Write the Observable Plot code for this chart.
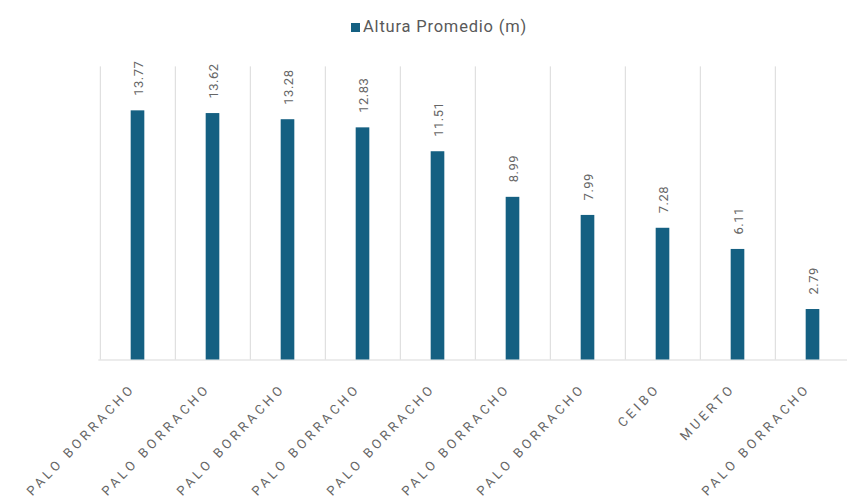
<!DOCTYPE html>
<html>
<head>
<meta charset="utf-8">
<script src="https://cdn.jsdelivr.net/npm/d3@7"></script>
<script src="https://cdn.jsdelivr.net/npm/@observablehq/plot@0.6"></script>
<style>
  html, body { margin: 0; padding: 0; background: #fff; overflow: hidden; width: 847px; height: 504px; }
  #wrap { position: relative; width: 847px; height: 504px; overflow: hidden; }
  #legend { position: absolute; top: 16px; left: 351px; font-family: Roboto, "Open Sans", sans-serif; font-size: 16.5px; letter-spacing: 0.8px; color: #595959; display: flex; align-items: center; white-space: nowrap; line-height: 22px; }
  #legend .sw { width: 9px; height: 9px; background: #156082; margin-right: 3px; }
  #chart svg { max-width: none; }
</style>
</head>
<body>
<div id="wrap">
  <div id="legend"><span class="sw"></span><span id="legend-text"></span></div>
  <div id="chart"></div>
</div>
<script>
const seriesName = "Altura Promedio (m)";
const categories = ["PALO BORRACHO", "PALO BORRACHO", "PALO BORRACHO", "PALO BORRACHO", "PALO BORRACHO", "PALO BORRACHO", "PALO BORRACHO", "CEIBO", "MUERTO", "PALO BORRACHO"];
const values = [13.77, 13.62, 13.28, 12.83, 11.51, 8.99, 7.99, 7.28, 6.11, 2.79];

document.getElementById("legend-text").textContent = seriesName;

const data = values.map((v, i) => ({i, label: categories[i], value: v}));

const W = 852, H = 504, mL = 98.3, mT = 70, mB = 144.5;
const band = (W - mL) / categories.length;
const barW = 14;

const chart = Plot.plot({
  width: W,
  height: H,
  marginLeft: mL,
  marginRight: 0,
  marginTop: mT,
  marginBottom: mB,
  style: {fontFamily: "Roboto, 'Open Sans', sans-serif", background: "#fff"},
  x: {type: "band", domain: data.map(d => d.i), padding: 0, axis: null},
  y: {domain: [0, 16], axis: null},
  marks: [
    Plot.ruleX(data, {x: "i", y1: 0, y2: 16.2, dx: -band / 2, stroke: "#d9d9d9", strokeWidth: 1}),
    Plot.ruleY([0], {stroke: "#d9d9d9", strokeWidth: 1}),
    Plot.barY(data, {x: "i", y: "value", fill: "#156082", insetLeft: (band - barW) / 2, insetRight: (band - barW) / 2}),
    Plot.text(data, {x: "i", y: "value", text: d => d.value.toFixed(2), rotate: -90, textAnchor: "start", dy: -15, dx: 1, fill: "#666666", fontSize: 13}),
    Plot.text(data, {x: "i", y: 0, text: "label", rotate: -46, textAnchor: "end", dx: -5, dy: 26, fill: "#666666", fontSize: 13})
  ]
});
const groups = chart.querySelectorAll('g[aria-label="text"]');
if (groups.length > 1) groups[1].setAttribute("letter-spacing", "3.6");
if (groups.length > 0) groups[0].setAttribute("letter-spacing", "0.5");
document.getElementById("chart").appendChild(chart);
</script>
</body>
</html>
